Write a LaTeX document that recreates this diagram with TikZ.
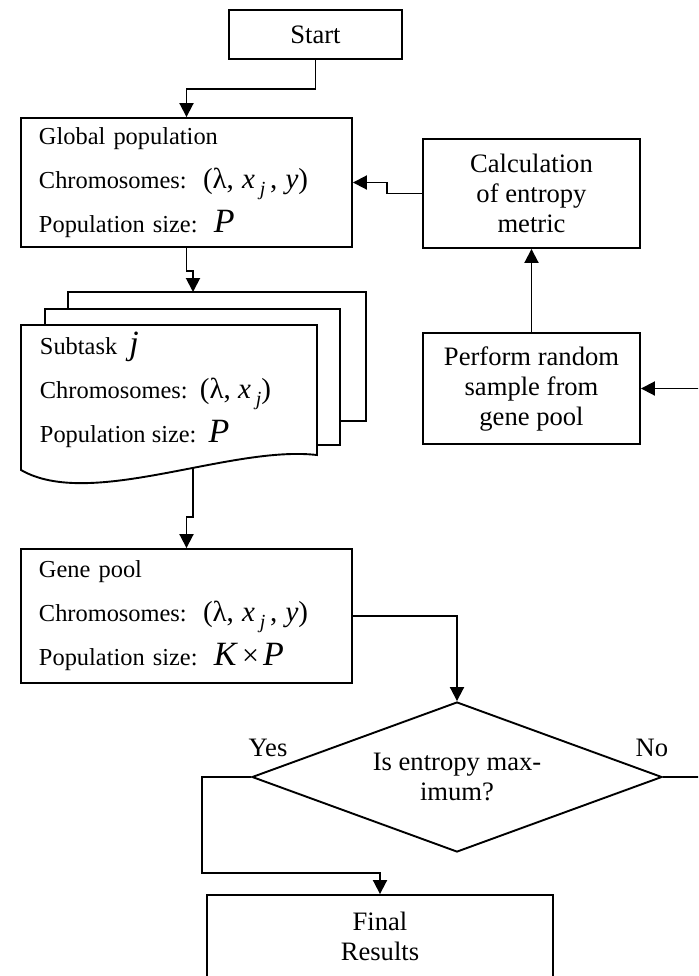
\documentclass[tikz,border=0pt]{standalone}
\usepackage{fontspec}
\setmainfont{Liberation Serif}
\usetikzlibrary{arrows.meta,shapes.geometric}
\newcommand{\bigit}[1]{{\fontsize{17}{17}\selectfont\textit{#1}}}
\newcommand{\xsubj}{\textit{x}\,\raisebox{-0.5ex}{\fontsize{10}{10}\selectfont\textit{j}}}
\newcommand{\chromexpr}[1]{{\fontsize{14.5}{14.5}\selectfont(λ,\ #1)}}
\begin{document}
\begin{tikzpicture}
[
 x=0.5pt, y=-0.5pt,
 line width=0.95pt,
 >={Triangle[length=7pt,width=7pt]},
 font=\fontsize{13.3}{15}\selectfont,
 box/.style={draw=black,rectangle,align=center,inner sep=0pt},
 listbox/.style={draw=black,rectangle,align=left,inner xsep=9pt,inner ysep=0pt,text width=147.5pt,font=\fontsize{12.2}{22}\selectfont},
 choice/.style={draw=black,diamond,aspect=2.73,align=center,inner sep=0pt}
]
\useasboundingbox (0,0) rectangle (698,976);
\clip (0,0) rectangle (698,976);
\node (start) [box,minimum width=86.5pt,minimum height=24.5pt] at (315.5,34.5) {Start};
\node (global) [listbox,minimum height=64.5pt] at (186.5,182.5) {Global population\\Chromosomes:\ \ \chromexpr{\xsubj\,,\ \textit{y}}\\Population size:\ \ \bigit{P}};
\node (calc) [box,minimum width=108.5pt,minimum height=54.5pt] at (531.5,193.5) {Calculation\\of entropy\\metric};
\node (random) [box,minimum width=108.5pt,minimum height=55.5pt] at (531.5,388.5) {Perform random\\sample from\\gene pool};
% subtask pages
\draw (68,309) -- (68,292) -- (366,292) -- (366,421) -- (340,421);
\draw (45,325) -- (45,309) -- (340,309) -- (340,445) -- (317,445);
\draw (21,325) -- (317,325) -- (317,455) .. controls (230,445) and (90,510) .. (21,470) -- cycle;
\coordinate (stack-in) at (193,292);
\coordinate (stack-out) at (193,468);
\node (subtask) [anchor=west,align=left,inner sep=0pt,font=\fontsize{12.2}{22}\selectfont] at (39,390) {Subtask\ \ \bigit{j}\\Chromosomes:\ \ \chromexpr{\xsubj}\\Population size:\ \ \bigit{P}};
\node (gene) [listbox,minimum height=67pt] at (186.5,616) {Gene pool\\Chromosomes:\ \ \chromexpr{\xsubj\,,\ \textit{y}}\\Population size:\ \ \bigit{K}\,{\fontsize{15}{15}\selectfont×}\,\bigit{P}};
\node (test) [choice,minimum width=205pt,minimum height=75pt] at (457,777) {Is entropy max-\\imum?};
\node (yes-label) at (268,748) {Yes};
\node (no-label) at (652,748) {No};
\node (final) [box,minimum width=173pt,minimum height=41.5pt] at (380,936.5) {Final\\Results};
\draw[->] (start.south) -- ++(0,29) -| (global.north);
\draw[->] (calc.west) -- ++(-35,0) |- (global.east);
\draw[->] (global.south) -- ++(0,23) -| (stack-in);
\draw[->] (stack-out) -- ++(0,49) -| (gene.north);
\draw[->] (gene.east) -| (test.north);
\draw[->] (random.north) -- (calc.south);
\draw[->] (test.west) -- ++(-49,0) -- ++(0,96) -| (final.north);
\draw[->] (test.east) -- ++(80,0) |- (random.east);
\end{tikzpicture}
\end{document}
